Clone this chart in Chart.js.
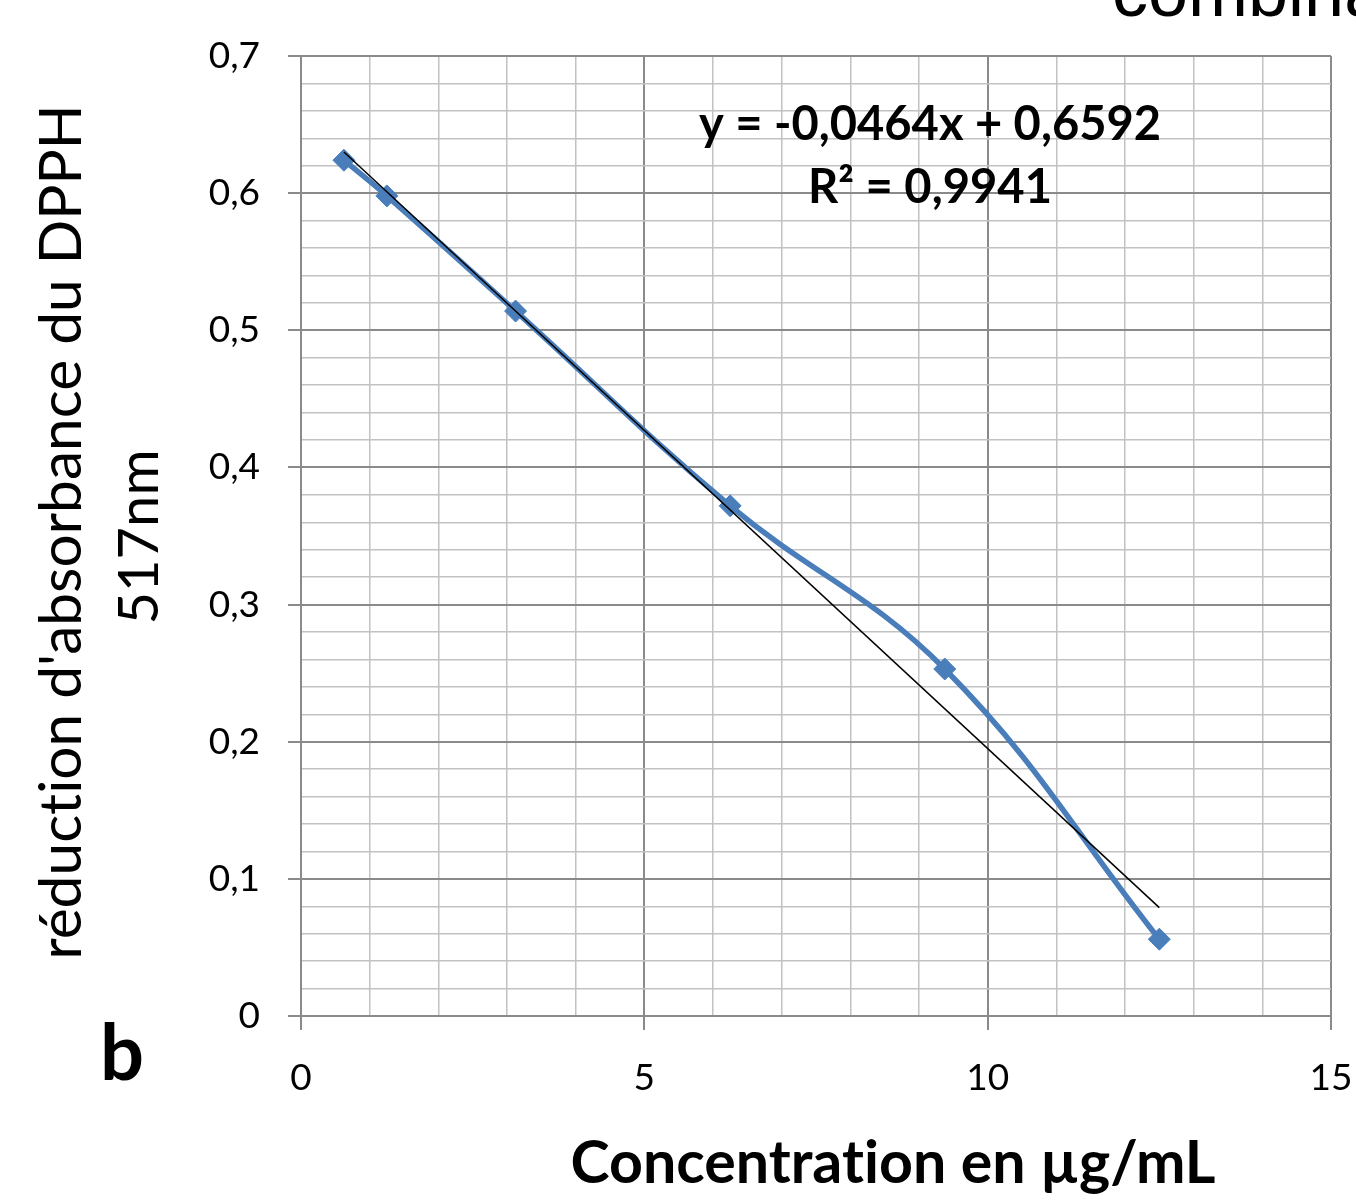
<!DOCTYPE html>
<html>
<head>
<meta charset="utf-8">
<script src="https://cdn.jsdelivr.net/npm/chart.js"></script>
<style>
  html, body { margin: 0; padding: 0; background: #fff; }
  #wrap { width: 1356px; height: 1201px; }
</style>
</head>
<body>
<div id="wrap"><canvas id="dpphChart" width="1356" height="1201"></canvas></div>
<script>
// concentrations (µg/mL) and DPPH absorbance reduction
const concentrations = [0.625, 1.25, 3.125, 6.25, 9.375, 12.5];
const absorbanceReduction = [0.624, 0.598, 0.514, 0.372, 0.253, 0.056];

// linear trendline end points (y = -0,0464x + 0,6592)
const trendX = [0.625, 12.5];
const trendY = [0.630, 0.079];

const xTicks = [0, 5, 10, 15];
const yTicks = ['0', '0,1', '0,2', '0,3', '0,4', '0,5', '0,6', '0,7'];

const equationText = 'y = -0,0464x + 0,6592';
const r2Text = 'R² = 0,9941';
const xTitle = 'Concentration en µg/mL';
const yTitle = ["réduction d'absorbance du DPPH", '517nm'];

const MAJOR = '#8a8a8a';
const MINOR = '#c2c2c2';
const BLUE = '#4a7ebb';
const FONT = 'Lato, "Open Sans", sans-serif';

function isMajorY(v) { return Math.round(v * 100) % 10 === 0; }
function isMajorX(v) { return Math.round(v) % 5 === 0; }

// draw text scaled so it spans a given width
function fitText(ctx, text, weight, width, x, y) {
  ctx.font = weight + ' 100px ' + FONT;
  const w = ctx.measureText(text).width;
  const size = 100 * width / w;
  ctx.font = weight + ' ' + size.toFixed(2) + 'px ' + FONT;
  ctx.fillText(text, x, y);
}

const textPlugin = {
  id: 'textPlugin',
  afterDraw(chart) {
    const ctx = chart.ctx;
    ctx.save();
    ctx.fillStyle = '#000';
    ctx.textBaseline = 'alphabetic';
    ctx.textAlign = 'center';
    // tiny spacing keeps Lato from forming the "ti" ligature
    ctx.letterSpacing = '0.01px';

    // axis title x
    fitText(ctx, xTitle, 'bold', 645, 893, 1183);

    // axis title y, two lines
    ctx.save();
    ctx.translate(81, 532);
    ctx.rotate(-Math.PI / 2);
    fitText(ctx, yTitle[0], 'normal', 855, 0, 0);
    ctx.restore();
    ctx.save();
    ctx.translate(158, 537);
    ctx.rotate(-Math.PI / 2);
    fitText(ctx, yTitle[1], 'normal', 175, 0, 0);
    ctx.restore();

    // trendline equation
    fitText(ctx, equationText, 'bold', 462, 930, 140);
    fitText(ctx, r2Text, 'bold', 244, 930, 203);

    // panel letter
    ctx.textAlign = 'left';
    fitText(ctx, 'b', 'bold', 44, 100, 1080);

    // clipped heading from the page above
    ctx.font = 'normal 72px "Liberation Sans", Arial, sans-serif';
    ctx.fillText('combina', 1112, 16);
    ctx.restore();
  }
};

new Chart(document.getElementById('dpphChart'), {
  type: 'scatter',
  data: {
    datasets: [
      {
        label: 'Linéaire',
        data: trendX.map((x, i) => ({ x: x, y: trendY[i] })),
        showLine: true,
        borderColor: '#000',
        borderWidth: 1.5,
        pointRadius: 0,
        tension: 0
      },
      {
        label: 'DPPH',
        data: concentrations.map((x, i) => ({ x: x, y: absorbanceReduction[i] })),
        showLine: true,
        borderColor: BLUE,
        borderWidth: 5.5,
        tension: 0.4,
        pointStyle: 'rectRot',
        pointRadius: 11,
        pointBackgroundColor: BLUE,
        pointBorderColor: BLUE,
        pointBorderWidth: 1
      }
    ]
  },
  options: {
    responsive: false,
    animation: false,
    devicePixelRatio: 1,
    layout: { padding: { top: 56, right: 25, left: 0, bottom: 0 } },
    plugins: {
      legend: { display: false },
      tooltip: { enabled: false }
    },
    scales: {
      x: {
        type: 'linear',
        min: 0,
        max: 15,
        afterFit: (scale) => {
          scale.height = 185;
          scale.paddingLeft = 0;
          scale.paddingRight = 0;
        },
        ticks: {
          stepSize: 1,
          autoSkip: false,
          maxRotation: 0,
          padding: 26,
          color: '#000',
          font: { family: FONT, size: 37 },
          callback: (v) => xTicks.includes(v) ? String(v) : ''
        },
        grid: {
          tickLength: 14,
          color: (c) => isMajorX(c.tick.value) ? MAJOR : MINOR,
          tickColor: (c) => isMajorX(c.tick.value) ? MAJOR : 'rgba(0,0,0,0)',
          lineWidth: (c) => isMajorX(c.tick.value) ? 2 : 1.5
        },
        border: { color: MAJOR, width: 2 }
      },
      y: {
        type: 'linear',
        min: 0,
        max: 0.7,
        afterFit: (scale) => {
          scale.width = 301;
          scale.paddingTop = 0;
          scale.paddingBottom = 0;
        },
        ticks: {
          stepSize: 0.02,
          autoSkip: false,
          padding: 28,
          color: '#000',
          font: { family: FONT, size: 37 },
          callback: (v) => isMajorY(v) ? yTicks[Math.round(v * 10)] : ''
        },
        grid: {
          tickLength: 13,
          color: (c) => isMajorY(c.tick.value) ? MAJOR : MINOR,
          tickColor: (c) => isMajorY(c.tick.value) ? MAJOR : 'rgba(0,0,0,0)',
          lineWidth: (c) => isMajorY(c.tick.value) ? 2 : 1.5
        },
        border: { color: MAJOR, width: 2 }
      }
    }
  },
  plugins: [textPlugin]
});
</script>
</body>
</html>
